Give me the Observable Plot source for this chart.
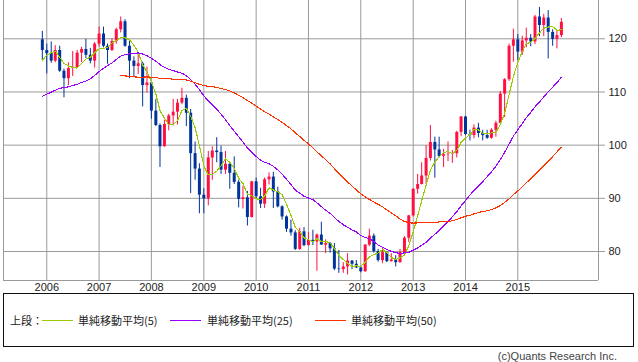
<!DOCTYPE html>
<html>
<head>
<meta charset="utf-8">
<script src="https://cdn.jsdelivr.net/npm/d3@7"></script>
<script src="https://cdn.jsdelivr.net/npm/@observablehq/plot@0.6"></script>
<style>
  html, body { margin: 0; padding: 0; background: #fff; }
  body { width: 638px; height: 362px; position: relative; overflow: hidden; font-family: "Liberation Sans", Arial, sans-serif; }
  #chart { position: absolute; left: 0; top: 0; }
  #legend { position: absolute; left: 3px; top: 293px; width: 629px; height: 52px; border: 1px solid #111; box-sizing: content-box; }
  .lt { position: absolute; top: 19px; font: 11px/14px "Noto Sans CJK JP", sans-serif; color: #222; white-space: nowrap; }
  .ll { position: absolute; top: 26px; height: 1px; width: 31px; }
  #caption { position: absolute; right: 21px; top: 349px; font: 11px/14px "Liberation Sans", Arial, sans-serif; color: #444; white-space: nowrap; }
</style>
</head>
<body>
<div id="chart"></div>
<div id="legend"></div>
<div id="caption">(c)Quants Research Inc.</div>
<script>
// ---- data (USD/JPY monthly, Dec 2005 – Nov 2015) ----
const firstMonth = "2005-12";
const open = [
119.8,117.8,117.2,115.8,117.8,113.9,112.5,114.4,114.6,117.3,118.0,116.9,115.8,
119.0,120.9,118.6,117.8,119.5,121.7,123.2,118.6,115.8,114.8,115.3,111.2,
111.7,106.4,103.7,99.7,103.9,105.5,106.2,107.9,108.8,106.0,98.4,95.5,
90.6,89.9,97.6,98.9,98.6,95.3,96.4,94.7,93.0,89.8,90.1,86.4,
93.1,90.3,88.9,93.5,94.0,91.2,88.4,86.5,84.2,83.5,80.4,83.7,
81.1,82.1,81.8,83.1,81.2,81.5,80.5,76.7,76.6,77.1,78.2,77.6,
76.9,76.2,81.2,82.9,80.0,78.3,79.8,78.1,78.4,77.9,79.8,82.5,
86.7,91.7,92.6,94.2,97.5,100.5,99.1,97.9,98.2,98.3,98.4,102.4,
105.3,102.0,101.8,103.2,102.2,101.8,101.3,102.8,104.1,109.6,112.3,118.6,
119.8,117.5,119.6,120.1,119.4,124.1,122.5,123.9,121.2,119.9,120.6];
const high = [
121.4,119.0,119.4,118.7,118.6,114.3,115.5,117.6,117.8,118.4,119.9,118.2,119.3,
122.2,122.2,119.0,120.0,122.0,124.1,123.6,119.8,116.6,117.0,115.6,114.7,
111.9,108.6,104.0,104.7,105.8,108.6,108.6,110.7,109.4,106.7,100.6,96.5,
91.8,98.8,99.7,101.4,99.8,98.8,96.5,97.8,93.4,92.3,91.3,93.2,
93.8,91.9,93.8,94.8,94.9,92.1,88.6,86.7,85.9,83.9,84.4,84.5,
83.6,84.0,83.3,85.5,82.2,81.7,81.5,80.2,77.9,79.6,78.3,78.3,
77.2,81.3,84.2,83.3,80.4,80.6,79.9,79.6,79.2,80.4,82.8,86.8,
91.8,94.5,96.7,99.9,103.7,101.5,101.5,99.2,100.6,99.0,102.6,105.4,
105.4,102.8,103.8,104.1,102.8,102.8,103.1,104.5,110.1,112.5,119.0,121.8,
120.8,120.5,122.0,120.8,124.4,125.9,124.6,125.3,121.7,121.5,123.8];
const low = [
115.9,113.4,115.4,115.5,113.7,108.9,111.2,112.9,114.5,115.5,116.3,115.3,114.5,
118.5,118.3,115.2,117.6,119.0,121.1,118.4,112.5,112.9,113.3,107.2,109.8,
104.9,103.5,95.8,99.6,102.7,103.6,103.8,107.6,103.5,90.9,93.4,87.1,
87.1,88.6,93.4,96.7,94.5,94.5,91.7,92.6,88.2,88.0,84.8,86.3,
89.8,88.1,88.1,92.5,88.1,88.2,85.9,83.6,82.9,80.2,80.2,80.9,
81.1,81.1,76.3,81.2,79.6,79.7,76.4,75.9,75.9,75.6,76.6,76.8,
76.0,76.1,80.9,79.7,78.0,77.7,77.9,78.0,77.1,77.8,79.5,81.7,
86.5,90.8,92.5,92.6,97.0,93.8,97.6,95.8,96.9,96.6,97.6,101.6,
101.8,100.8,101.2,101.4,100.8,101.1,101.1,101.5,104.0,105.2,112.0,115.6,
115.9,116.9,118.3,118.5,118.9,120.4,120.4,116.2,118.6,118.1,120.2];
const close = [
117.8,117.2,115.8,117.8,113.9,112.5,114.4,114.6,117.3,118.0,116.9,115.8,119.0,
120.9,118.6,117.8,119.5,121.7,123.2,118.6,115.8,114.8,115.3,111.2,111.7,
106.4,103.7,99.7,103.9,105.5,106.2,107.9,108.8,106.0,98.4,95.5,90.6,
89.9,97.6,98.9,98.6,95.3,96.4,94.7,93.0,89.8,90.1,86.4,93.1,
90.3,88.9,93.5,94.0,91.2,88.4,86.5,84.2,83.5,80.4,83.7,81.1,
82.1,81.8,83.1,81.2,81.5,80.5,76.7,76.6,77.1,78.2,77.6,76.9,
76.2,81.2,82.9,80.0,78.3,79.8,78.1,78.4,77.9,79.8,82.5,86.7,
91.7,92.6,94.2,97.5,100.5,99.1,97.9,98.2,98.3,98.4,102.4,105.3,
102.0,101.8,103.2,102.2,101.8,101.3,102.8,104.1,109.6,112.3,118.6,119.8,
117.5,119.6,120.1,119.4,124.1,122.5,123.9,121.2,119.9,120.6,123.1];
// simple moving averages as drawn
const ma5 = [
116.0,116.9,117.4,117.7,116.5,115.4,114.9,114.6,114.5,115.4,116.2,116.5,117.4,118.1,118.2,118.4,119.2,119.7,120.2,120.2,119.8,118.8,117.5,115.1,113.8,
111.9,109.7,106.5,105.1,103.8,103.8,104.6,106.5,106.9,105.5,103.3,99.9,96.1,94.4,94.5,95.1,96.1,97.4,96.8,95.6,93.8,92.8,90.8,90.5,
89.9,89.8,90.4,92.0,91.6,91.2,90.7,88.9,86.8,84.6,83.7,82.6,
82.2,81.8,82.4,81.9,81.9,81.6,80.6,79.3,78.5,77.8,77.2,77.3,
77.2,78.0,79.0,79.4,79.7,80.4,79.8,78.9,78.5,78.8,79.3,81.1,
83.7,86.7,89.5,92.5,95.3,96.8,97.8,98.6,98.8,98.4,99.0,100.5,
101.3,102.0,102.9,102.9,102.2,102.1,102.3,102.4,103.9,106.0,109.5,112.9,
115.6,117.6,119.1,119.3,120.1,121.1,122.0,122.2,122.3,121.6,121.7];
const ma25 = [
109.18,109.58,109.97,110.32,110.71,110.79,110.98,111.22,111.45,111.80,112.07,112.47,113.11,113.84,114.44,114.97,115.46,116.13,116.73,117.04,117.17,117.26,117.33,117.12,116.80,
116.35,115.81,115.16,114.61,114.27,114.02,113.76,113.53,113.08,112.29,111.44,110.43,109.26,108.33,107.54,106.78,105.81,104.80,103.66,102.63,101.59,100.60,99.45,98.72,
97.87,97.17,96.76,96.53,96.02,95.34,94.55,93.60,92.59,91.57,90.98,90.40,
90.06,89.74,89.16,88.45,87.77,87.18,86.39,85.66,85.03,84.56,84.06,83.68,
83.01,82.64,82.40,81.86,81.24,80.78,80.37,80.04,79.79,79.64,79.73,79.85,
80.27,80.69,81.19,81.76,82.54,83.24,83.94,84.80,85.66,86.52,87.48,88.59,
89.60,90.62,91.50,92.27,93.14,94.06,94.98,96.02,97.27,98.65,100.20,101.69,
102.92,104.04,105.14,106.15,107.21,108.09,109.08,110.02,110.88,111.78,112.76];
const ma50Start = "2007-06";
const ma50 = [
113.04,113.02,112.94,112.83,112.80,112.79,112.83,112.76,112.69,112.57,112.46,112.49,112.41,112.37,112.37,112.26,112.04,111.75,111.45,111.19,
111.09,110.99,110.87,110.63,110.46,110.19,109.83,109.38,108.93,108.39,107.92,107.34,106.76,106.28,105.85,105.32,104.81,104.29,103.68,103.06,
102.32,101.64,100.92,100.25,99.50,98.75,98.00,97.27,96.49,95.59,94.66,93.83,93.08,92.33,91.57,90.87,90.26,89.79,89.31,88.88,
88.40,87.85,87.30,86.70,86.12,85.65,85.41,85.34,85.38,85.46,85.46,85.49,85.50,85.56,85.59,85.66,85.77,86.02,86.33,86.64,
86.81,87.07,87.34,87.50,87.65,87.88,88.20,88.66,89.22,89.92,90.71,91.39,92.16,92.92,93.67,94.49,95.31,96.16,96.98,97.84,
98.72,99.64];
const yearLabels = ["2006","2007","2008","2009","2010","2011","2012","2013","2014","2015"];
const yTicks = [80, 90, 100, 110, 120];
const legendLabels = ["単純移動平均(5)", "単純移動平均(25)", "単純移動平均(50)"];
const legendPrefix = "上段：";

// ---- styles ----
const upColor = "#ff1040", downColor = "#00339c";
const maColors = ["#99cc00", "#9900ff", "#ff3300"];
const gridColor = "#9a9a9a";

// ---- build tables ----
const parseM = d3.utcParse("%Y-%m");
const m0 = parseM(firstMonth);
const months = open.map((_, i) => d3.utcMonth.offset(m0, i));
const rows = months.map((date, i) => ({date, open: open[i], high: high[i], low: low[i], close: close[i], up: close[i] >= open[i]}));
const m50 = parseM(ma50Start);
const lineRows = [
  ...ma5.map((v, i) => ({date: months[i], v, s: 0})),
  ...ma25.map((v, i) => ({date: months[i], v, s: 1})),
  ...ma50.map((v, i) => ({date: d3.utcMonth.offset(m50, i), v, s: 2}))
];
const yearDates = yearLabels.map(y => new Date(Date.UTC(+y, 0, 1)));
const xDomain = [new Date(Date.UTC(2005, 2, 5)), new Date(Date.UTC(2016, 6, 17))];
const yDomain = [74.55, 127.2];

const chart = Plot.plot({
  width: 638,
  height: 293,
  marginTop: 0,
  marginRight: 40,
  marginBottom: 13,
  marginLeft: 3,
  style: {background: "transparent", fontFamily: "'Liberation Sans', Arial, sans-serif", fontSize: "11px", color: "#222", overflow: "visible"},
  x: {type: "utc", domain: xDomain, axis: null},
  y: {domain: yDomain, axis: null},
  marks: [
    Plot.gridY(yTicks, {stroke: gridColor, strokeOpacity: 1}),
    Plot.gridX(yearDates, {stroke: gridColor, strokeOpacity: 1}),
    Plot.ruleX([xDomain[0], xDomain[1]], {stroke: gridColor}),
    Plot.ruleY([yDomain[0]], {stroke: gridColor}),
    Plot.axisY(yTicks, {anchor: "right", tickSize: 6, tickPadding: 4, stroke: gridColor, fill: "#222", fontSize: 11}),
    Plot.axisX(yearDates, {anchor: "bottom", tickSize: 0, tickPadding: 3, tickFormat: d3.utcFormat("%Y"), fill: "#222", fontSize: 11}),
    Plot.ruleX(rows, {x: "date", y1: "low", y2: "high", stroke: d => d.up ? upColor : downColor, strokeWidth: 1}),
    Plot.ruleX(rows, {x: "date", y1: "open", y2: "close", stroke: d => d.up ? upColor : downColor, strokeWidth: 3}),
    Plot.lineY(lineRows, {x: "date", y: "v", z: "s", stroke: d => maColors[d.s], strokeWidth: 1.1, curve: "linear", shapeRendering: "crispEdges"})
  ]
});
document.getElementById("chart").appendChild(chart);

// ---- legend ----
const lg = document.getElementById("legend");
const pre = document.createElement("span");
pre.className = "lt"; pre.style.left = "6px"; pre.textContent = legendPrefix;
lg.appendChild(pre);
const lineLefts = [38, 166, 311];
const textLefts = [74, 203, 347];
legendLabels.forEach((lab, i) => {
  const ln = document.createElement("span");
  ln.className = "ll"; ln.style.left = lineLefts[i] + "px"; ln.style.background = maColors[i];
  lg.appendChild(ln);
  const t = document.createElement("span");
  t.className = "lt"; t.style.left = textLefts[i] + "px"; t.textContent = lab;
  lg.appendChild(t);
});
</script>
</body>
</html>
